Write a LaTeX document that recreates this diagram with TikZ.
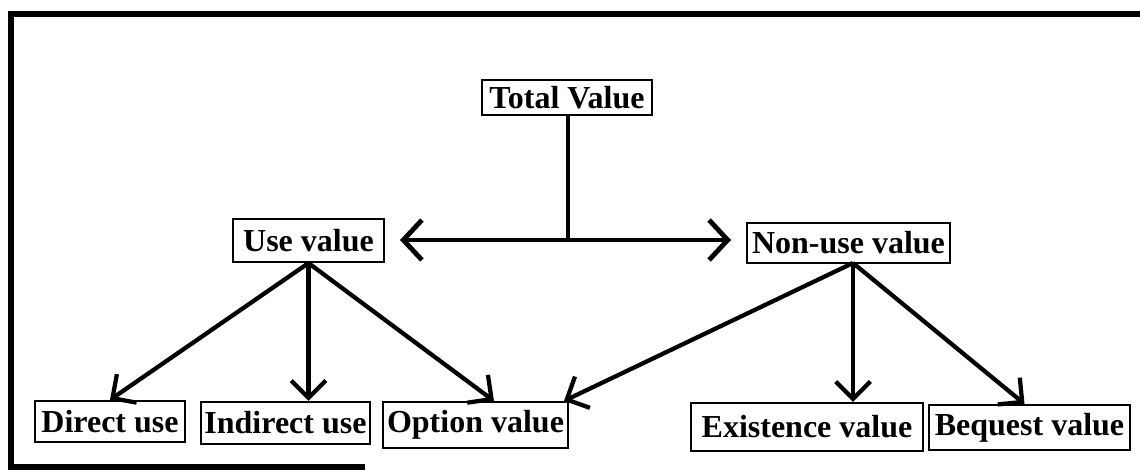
\documentclass[tikz,border=0pt]{standalone}
\usepackage{fontspec}
\setmainfont{Liberation Serif}
\usetikzlibrary{arrows.meta,calc}
\begin{document}
\begin{tikzpicture}[x=0.75pt,y=-0.75pt,
  box/.style={draw, line width=1.6pt, inner sep=0pt,
    font=\fontsize{24}{28}\selectfont\bfseries},
  frameline/.style={line width=4pt, line join=miter},
  trunk/.style={line width=3.6pt},
  bigbarb/.tip={Straight Barb[length=14pt, width=30pt]},
  link/.style={line width=3.2pt, -{Straight Barb[length=13pt, width=26pt]}}]
\useasboundingbox (0,0) rectangle (1140,470);

% open frame
\draw[frameline] (1140,14) -- (11,14) -- (11,467) -- (365,467);

% boxes
\node[box, minimum width={170*0.75pt}, minimum height={35*0.75pt}] (tot) at (567,97.5) {Total Value};
\node[box, minimum width={151*0.75pt}, minimum height={43*0.75pt}] (use) at (308.5,240.5) {Use value};
\node[box, minimum width={203*0.75pt}, minimum height={40*0.75pt}] (non) at (848.5,243) {Non-use value};
\node[box, minimum width={150*0.75pt}, minimum height={41*0.75pt}] (direct) at (110,421.5) {Direct use};
\node[box, minimum width={169*0.75pt}, minimum height={42*0.75pt}] (indirect) at (285.5,423) {Indirect use};
\node[box, minimum width={185*0.75pt}, minimum height={46*0.75pt}] (option) at (475.5,425) {Option value};
\node[box, minimum width={232*0.75pt}, minimum height={48*0.75pt}] (exist) at (807,427) {Existence value};
\node[box, minimum width={201*0.75pt}, minimum height={45*0.75pt}] (bequest) at (1029.5,427.5) {Bequest value};

% split of the total value
\coordinate (j) at (568,240);
\coordinate (hl) at (400,240);
\coordinate (hr) at (731,240);
\draw[trunk] (tot.south -| j) -- (j);
\draw[trunk, bigbarb-bigbarb] (hl) -- (hr);

% use value branches
\draw[link] (use.south) -- (direct.north);
\draw[link] (use.south) -- (use.south |- indirect.north);
\draw[link] (use.south) -- ($(option.north west)+(112,0)$);

% non-use value branches
\coordinate (no) at (853,263);
\draw[link] (no) -- ($(option.north east)+(-5,0)$);
\draw[link] (no) -- (no |- exist.north);
\draw[link] (no) -- ($(bequest.north)+(-5,0)$);
\end{tikzpicture}
\end{document}
